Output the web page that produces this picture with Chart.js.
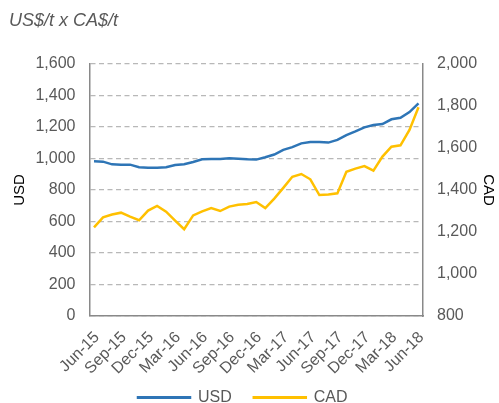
<!DOCTYPE html>
<html>
<head>
<meta charset="utf-8">
<script src="https://cdn.jsdelivr.net/npm/chart.js@4.4.1/dist/chart.umd.min.js"></script>
<style>
  body { margin: 0; background: #fff; }
  #wrap { width: 499px; height: 403px; position: relative; }
</style>
</head>
<body>
<div id="wrap"><canvas id="myChart"></canvas></div>
<script>
// monthly prices, Jun-15 .. Jun-18
const months = ['Jun-15','Jul-15','Aug-15','Sep-15','Oct-15','Nov-15','Dec-15','Jan-16','Feb-16',
  'Mar-16','Apr-16','May-16','Jun-16','Jul-16','Aug-16','Sep-16','Oct-16','Nov-16','Dec-16',
  'Jan-17','Feb-17','Mar-17','Apr-17','May-17','Jun-17','Jul-17','Aug-17','Sep-17','Oct-17',
  'Nov-17','Dec-17','Jan-18','Feb-18','Mar-18','Apr-18','May-18','Jun-18'];

const usd = [982, 980, 963, 961, 961, 944, 942, 942, 944, 959, 963, 978, 995, 997, 997, 1001,
  999, 995, 993, 1008, 1025, 1055, 1072, 1096, 1105, 1105, 1101, 1118, 1149, 1172, 1198,
  1213, 1219, 1249, 1259, 1295, 1350];

const cad = [1222, 1270, 1283, 1292, 1273, 1256, 1302, 1324, 1297, 1254, 1213, 1279, 1298,
  1314, 1300, 1321, 1330, 1333, 1343, 1314, 1359, 1410, 1463, 1476, 1451, 1376, 1379, 1384,
  1487, 1502, 1514, 1492, 1559, 1606, 1613, 1686, 1794];

const usdTicks = [0, 1600, 200];   // min, max, step
const cadTicks = [800, 2000, 200];

const FONT = "'Liberation Sans', Arial, sans-serif";
const GREY = '#595959';
const AXIS = '#898989';

//======================= keep the legend where the original has it
const legendPlace = {
  id: 'legendPlace',
  afterLayout(chart) {
    chart.legend.left = 116;
    chart.legend.top = 367.5;
  }
};

var ctx = document.getElementById('myChart').getContext('2d');
var chart = new Chart(ctx, {
  type: 'line',
  data: {
    labels: months,
    datasets: [
      {
        label: 'USD',
        data: usd,
        yAxisID: 'y',
        borderColor: '#2E75B6',
        backgroundColor: '#2E75B6',
        borderWidth: 2.5,
        pointRadius: 0,
        order: 1
      },
      {
        label: 'CAD',
        data: cad,
        yAxisID: 'y1',
        borderColor: '#FFC000',
        backgroundColor: '#FFC000',
        borderWidth: 2.5,
        pointRadius: 0,
        order: 0
      }
    ]
  },
  options: {
    responsive: true,
    maintainAspectRatio: false,
    animation: false,
    layout: { padding: { left: 9, right: 0, top: 0, bottom: -36 } },
    plugins: {
      tooltip: { enabled: false },
      title: {
        display: true,
        text: 'US$/t x CA$/t',
        align: 'start',
        color: GREY,
        font: { family: FONT, size: 18, style: 'italic', weight: 'normal' },
        padding: { top: 10, bottom: 32.4 }
      },
      legend: {
        position: 'bottom',
        align: 'start',
        labels: {
          boxWidth: 52,
          boxHeight: 0.5,
          padding: 22,
          color: GREY,
          font: { family: FONT, size: 16 },
          sort: (a, b) => a.datasetIndex - b.datasetIndex
        }
      }
    },
    scales: {
      x: {
        offset: true,
        grid: { display: false, drawTicks: false },
        border: { display: true, color: AXIS, width: 1.5 },
        ticks: {
          autoSkip: false,
          maxRotation: 45,
          minRotation: 45,
          padding: 12,
          labelOffset: 3,
          color: GREY,
          font: { family: FONT, size: 16 },
          callback: function(v, i) { return i % 3 === 0 ? months[i] : ''; }
        },
        afterFit: function(s) { s.height = 75; }
      },
      y: {
        position: 'left',
        min: usdTicks[0],
        max: usdTicks[1],
        grid: { color: '#b8b8b8', lineWidth: 1.3, drawTicks: false },
        border: { display: true, color: AXIS, width: 1.5, dash: [5, 3.5] },
        ticks: {
          stepSize: usdTicks[2],
          padding: 14,
          color: GREY,
          font: { family: FONT, size: 16 },
          callback: v => v.toLocaleString('en-US')
        },
        title: {
          display: true,
          text: 'USD',
          color: '#000',
          font: { family: FONT, size: 15 },
          padding: { top: 2, bottom: 2 }
        },
        afterFit: function(s) { s.width = 80.5; }
      },
      y1: {
        position: 'right',
        min: cadTicks[0],
        max: cadTicks[1],
        grid: { drawOnChartArea: false, drawTicks: false },
        border: { display: true, color: AXIS, width: 1.5 },
        ticks: {
          stepSize: cadTicks[2],
          padding: 14,
          color: GREY,
          font: { family: FONT, size: 16 },
          callback: v => v.toLocaleString('en-US')
        },
        title: {
          display: true,
          text: 'CAD',
          color: '#000',
          font: { family: FONT, size: 15 },
          padding: { top: 2, bottom: 2 }
        },
        afterFit: function(s) { s.width = 76; }
      }
    }
  },
  plugins: [legendPlace]
});
</script>
</body>
</html>
